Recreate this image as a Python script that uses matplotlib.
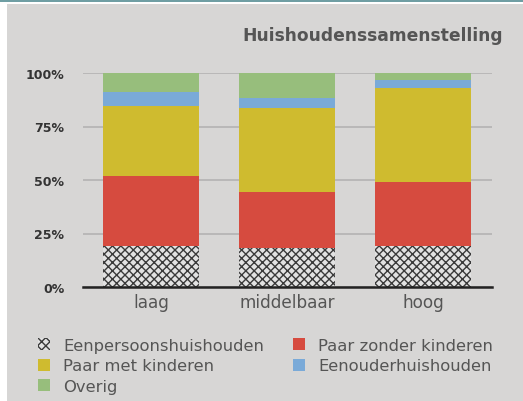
import matplotlib.pyplot as plt
import matplotlib.ticker as ticker
from matplotlib.patches import Patch, Rectangle

categories = ['laag', 'middelbaar', 'hoog']
series = ['Eenpersoonshuishouden', 'Paar zonder kinderen', 'Paar met kinderen',
          'Eenouderhuishouden', 'Overig']
# percentages per segment, bottom to top
eenpersoons = [19.2, 18.1, 19.0]
paar_zonder = [32.7, 26.1, 29.9]
paar_met = [32.7, 39.3, 43.9]
eenouder = [6.5, 4.7, 3.9]
overig = [8.9, 11.8, 3.3]
values = [eenpersoons, paar_zonder, paar_met, eenouder, overig]
y_ticks = [0, 25, 50, 75, 100]

colors = ['#e2e2e2', '#d64b3f', '#cfbb2f', '#7aaad8', '#97be7c']
bg = '#d7d6d5'
text_col = '#555555'

plt.rcParams['hatch.linewidth'] = 1.0

fig = plt.figure(figsize=(5.23, 4.02), dpi=100, facecolor=bg)

# white strip on the left and teal rule on top
fig.patches.append(Rectangle((0, 0), 7 / 523, 1, transform=fig.transFigure,
                             facecolor='white', edgecolor='none', zorder=0))
fig.patches.append(Rectangle((0, 1 - 3 / 402), 1, 3 / 402, transform=fig.transFigure,
                             facecolor='#6f9ea3', edgecolor='none', zorder=1))
fig.patches.append(Rectangle((0, 1 - 5 / 402), 1, 2 / 402, transform=fig.transFigure,
                             facecolor='white', edgecolor='none', zorder=1))

ax = fig.add_axes([83 / 523, 1 - 288 / 402, 409 / 523, 214 / 402])
ax.set_facecolor(bg)

x = range(len(categories))
bottom = [0, 0, 0]
for i, (name, vals) in enumerate(zip(series, values)):
    if i == 0:
        b = ax.bar(x, vals, bottom=bottom, width=0.706, color=colors[i],
                   hatch='xxxx', edgecolor='#3a3a3a', linewidth=0, zorder=3)
    else:
        b = ax.bar(x, vals, bottom=bottom, width=0.706, color=colors[i],
                   linewidth=0, zorder=3)
    bottom = [b_ + v for b_, v in zip(bottom, vals)]

ax.set_xlim(-0.5, 2.507)
ax.set_ylim(0, 100)
ax.set_yticks(y_ticks)
ax.yaxis.set_major_formatter(ticker.FuncFormatter(lambda v, p: f'{v:.0f}%'))
ax.grid(axis='y', color='#b3b3b3', linewidth=1.2, zorder=0)
for s in ['top', 'right', 'left']:
    ax.spines[s].set_visible(False)
ax.spines['bottom'].set_color('#222222')
ax.spines['bottom'].set_linewidth(1.8)
ax.spines['bottom'].set_zorder(4)
ax.tick_params(axis='y', length=0, pad=13.5, labelsize=9, labelcolor='#333333')
for lbl in ax.get_yticklabels():
    lbl.set_fontweight('bold')
ax.set_xticks(list(x))
ax.set_xticklabels(categories)
ax.tick_params(axis='x', length=0, pad=4, labelsize=12.2, labelcolor=text_col)

fig.text(503 / 523, 1 - 36 / 402, 'Huishoudenssamenstelling', ha='right', va='center',
         fontsize=12.3, fontweight='bold', color=text_col)

handles = [Patch(facecolor=colors[0], hatch='xxxx', edgecolor='#3a3a3a', linewidth=0),
           Patch(facecolor=colors[2]), Patch(facecolor=colors[4]),
           Patch(facecolor=colors[1]), Patch(facecolor=colors[3])]
labels = [series[0], series[2], series[4], series[1], series[3]]
fig.legend(handles, labels, ncol=2, loc='upper left', bbox_to_anchor=(38 / 523, 1 - 339 / 402),
           frameon=False, fontsize=11.8, labelcolor=text_col, handlelength=0.75, handleheight=0.75,
           handletextpad=0.8, columnspacing=1.75, labelspacing=0.33, borderaxespad=0,
           borderpad=0)

fig.savefig('out.png', dpi=100, facecolor=bg)
